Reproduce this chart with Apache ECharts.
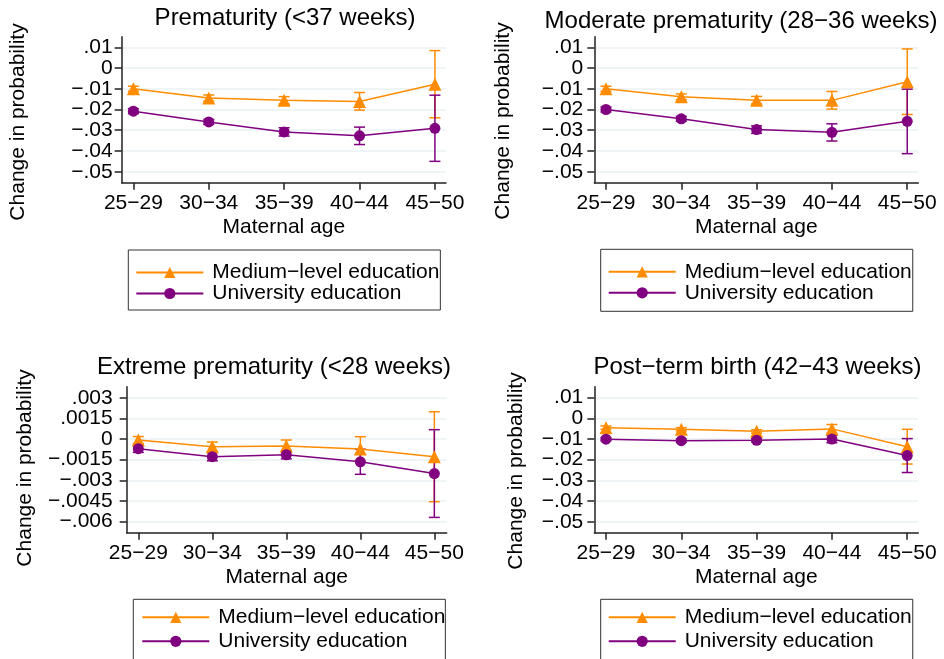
<!DOCTYPE html>
<html>
<head>
<meta charset="utf-8">
<script src="https://cdn.jsdelivr.net/npm/echarts@6/dist/echarts.min.js"></script>
<style>
html,body{margin:0;padding:0;background:#fff;}
#chart{width:944px;height:659px;}
</style>
</head>
<body>
<div id="chart"></div>
<script>
// ---------- data ----------
const categories = ['25\u221229', '30\u221234', '35\u221239', '40\u221244', '45\u221250'];
const seriesNames = ['Medium\u2212level education', 'University education'];
const panelTitles = ['Prematurity (<37 weeks)', 'Moderate prematurity (28\u221236 weeks)',
                     'Extreme prematurity (<28 weeks)', 'Post\u2212term birth (42\u221243 weeks)'];
const yAxisTitle = 'Change in probability';
const xAxisTitle = 'Maternal age';

// Panel 1: Prematurity (<37 weeks)
const p1Med   = [-0.0100, -0.0145, -0.0156, -0.0161, -0.0078];
const p1MedLo = [-0.0112, -0.0160, -0.0174, -0.0203, -0.0240];
const p1MedHi = [-0.0088, -0.0130, -0.0138, -0.0118,  0.0084];
const p1Uni   = [-0.0208, -0.0260, -0.0308, -0.0327, -0.0291];
const p1UniLo = [-0.0220, -0.0272, -0.0328, -0.0369, -0.0450];
const p1UniHi = [-0.0196, -0.0248, -0.0288, -0.0285, -0.0131];

// Panel 2: Moderate prematurity (28-36 weeks)
const p2Med   = [-0.0100, -0.0139, -0.0155, -0.0156, -0.0066];
const p2MedLo = [-0.0112, -0.0153, -0.0173, -0.0198, -0.0224];
const p2MedHi = [-0.0088, -0.0125, -0.0137, -0.0113,  0.0092];
const p2Uni   = [-0.0200, -0.0245, -0.0297, -0.0310, -0.0257];
const p2UniLo = [-0.0212, -0.0257, -0.0315, -0.0352, -0.0413];
const p2UniHi = [-0.0188, -0.0233, -0.0279, -0.0269, -0.0102];

// Panel 3: Extreme prematurity (<28 weeks)
const p3Med   = [-0.00007, -0.00056, -0.00051, -0.00073, -0.00128];
const p3MedLo = [-0.00032, -0.00090, -0.00095, -0.00163, -0.00455];
const p3MedHi = [ 0.00018, -0.00022, -0.00007,  0.00017,  0.00198];
const p3Uni   = [-0.00070, -0.00128, -0.00114, -0.00165, -0.00251];
const p3UniLo = [-0.00097, -0.00158, -0.00144, -0.00256, -0.00569];
const p3UniHi = [-0.00043, -0.00098, -0.00084, -0.00074,  0.00068];

// Panel 4: Post-term birth (42-43 weeks)
const p4Med   = [-0.0045, -0.0053, -0.0063, -0.0051, -0.0137];
const p4MedLo = [-0.0053, -0.0061, -0.0071, -0.0071, -0.0221];
const p4MedHi = [-0.0037, -0.0045, -0.0055, -0.0030, -0.0053];
const p4Uni   = [-0.0101, -0.0108, -0.0106, -0.0100, -0.0180];
const p4UniLo = [-0.0109, -0.0116, -0.0114, -0.0118, -0.0262];
const p4UniHi = [-0.0093, -0.0100, -0.0098, -0.0082, -0.0098];

// Tick values and labels (ascending)
const yTicksA = [-0.05, -0.04, -0.03, -0.02, -0.01, 0, 0.01];
const yTickLabelsA = ['\u2212.05', '\u2212.04', '\u2212.03', '\u2212.02', '\u2212.01', '0', '.01'];
const yTicksB = [-0.006, -0.0045, -0.003, -0.0015, 0, 0.0015, 0.003];
const yTickLabelsB = ['\u2212.006', '\u2212.0045', '\u2212.003', '\u2212.0015', '0', '.0015', '.003'];
const xTicks = [1, 2, 3, 4, 5];

// ---------- layout / style ----------
const FONT = '"Liberation Sans", Arial, Helvetica, sans-serif';
const ORANGE = '#ff8c00';
const PURPLE = '#800080';
const GRIDCOL = '#eaf2f3';

const panels = [
  {med:p1Med, medLo:p1MedLo, medHi:p1MedHi, uni:p1Uni, uniLo:p1UniLo, uniHi:p1UniHi,
   grid:{left:121.7, top:36.7, width:324.3, height:146}, x:[0.845, 5.147], y:[-0.0553, 0.0151],
   ticks:yTicksA, labels:yTickLabelsA, labelMargin:9,
   title:[285, 18], yName:[18, 122]},
  {med:p2Med, medLo:p2MedLo, medHi:p2MedHi, uni:p2Uni, uniLo:p2UniLo, uniHi:p2UniHi,
   grid:{left:594.3, top:36.7, width:324, height:146}, x:[0.845, 5.147], y:[-0.0553, 0.0151],
   ticks:yTicksA, labels:yTickLabelsA, labelMargin:11,
   title:[741, 21], yName:[503, 121]},
  {med:p3Med, medLo:p3MedLo, medHi:p3MedHi, uni:p3Uni, uniLo:p3UniLo, uniHi:p3UniHi,
   grid:{left:126.7, top:386.7, width:320, height:146}, x:[0.843, 5.167], y:[-0.0068, 0.0038],
   ticks:yTicksB, labels:yTickLabelsB, labelMargin:14,
   title:[274, 367], yName:[25, 468]},
  {med:p4Med, medLo:p4MedLo, medHi:p4MedHi, uni:p4Uni, uniLo:p4UniLo, uniHi:p4UniHi,
   grid:{left:594.3, top:386.7, width:324, height:146}, x:[0.845, 5.147], y:[-0.0553, 0.0153],
   ticks:yTicksA, labels:yTickLabelsA, labelMargin:11,
   title:[757.5, 367], yName:[516, 471]}
];

const legendBoxes = [
  {left:128.3, top:250, padding:[12, 1, 6, 7], lineHeight:20},
  {left:600.7, top:249.3, padding:[12, 1, 8, 7], lineHeight:20},
  {left:133.3, top:599.3, padding:[6, 0, 12, 8], lineHeight:24},
  {left:600.7, top:599.3, padding:[6, 1, 12, 7], lineHeight:24}
];

function errorBar(color) {
  return function (params, api) {
    const x = api.value(0), lo = api.value(1), hi = api.value(2);
    const a = api.coord([x, hi]);
    const b = api.coord([x, lo]);
    const w = 5.5;
    const st = {stroke: color, lineWidth: 1.5, fill: null};
    return {type: 'group', children: [
      {type: 'line', shape: {x1: a[0], y1: a[1], x2: b[0], y2: b[1]}, style: st},
      {type: 'line', shape: {x1: a[0] - w, y1: a[1], x2: a[0] + w, y2: a[1]}, style: st},
      {type: 'line', shape: {x1: b[0] - w, y1: b[1], x2: b[0] + w, y2: b[1]}, style: st}
    ]};
  };
}

function labelFormatter(ticks, labels) {
  return v => { const k = ticks.findIndex(t => Math.abs(t - v) < 1e-9); return k >= 0 ? labels[k] : ''; };
}

const grids = [], xAxes = [], yAxes = [], series = [], graphics = [], legends = [];

panels.forEach((p, i) => {
  grids.push(Object.assign({containLabel: false}, p.grid));
  xAxes.push({
    type: 'value', gridIndex: i, min: p.x[0], max: p.x[1],
    name: xAxisTitle, nameLocation: 'middle', nameGap: 34,
    nameTextStyle: {fontSize: 21, fontFamily: FONT, color: '#000'},
    axisLine: {show: true, onZero: false, lineStyle: {color: '#222', width: 1.5}},
    axisTick: {show: true, inside: false, length: 7, customValues: xTicks, lineStyle: {color: '#222', width: 1.5}},
    axisLabel: {show: true, customValues: xTicks, margin: 10, fontSize: 21, fontFamily: FONT, color: '#000',
      showMinLabel: true, showMaxLabel: true, hideOverlap: false,
      formatter: v => categories[Math.round(v) - 1]},
    splitLine: {show: false}
  });

  const ticks = p.ticks, labels = p.labels;
  // alternate tick labels are split between two coincident axes so none get dropped as "overlapping"
  const evenTicks = ticks.filter((t, k) => k % 2 === 0);
  const oddTicks = ticks.filter((t, k) => k % 2 === 1);
  const fmt = labelFormatter(ticks, labels);
  const labelBase = {show: true, margin: p.labelMargin, fontSize: 21, fontFamily: FONT, color: '#000',
    showMinLabel: true, showMaxLabel: true, hideOverlap: false, formatter: fmt};
  yAxes.push({
    type: 'value', gridIndex: i, min: p.y[0], max: p.y[1], position: 'left', offset: 0,
    axisLine: {show: true, onZero: false, lineStyle: {color: '#222', width: 1.5}},
    axisTick: {show: true, inside: false, length: 7, customValues: ticks, lineStyle: {color: '#222', width: 1.5}},
    axisLabel: Object.assign({customValues: evenTicks}, labelBase),
    splitLine: {show: true, lineStyle: {color: GRIDCOL, width: 1.5}}
  });
  yAxes.push({
    type: 'value', gridIndex: i, min: p.y[0], max: p.y[1], position: 'left', offset: 0,
    axisLine: {show: false, onZero: false},
    axisTick: {show: false, customValues: oddTicks},
    axisLabel: Object.assign({customValues: oddTicks}, labelBase),
    splitLine: {show: false}
  });
  const yi = 2 * i;

  const medCI = categories.map((c, k) => [k + 1, p.medLo[k], p.medHi[k]]);
  const uniCI = categories.map((c, k) => [k + 1, p.uniLo[k], p.uniHi[k]]);
  series.push({
    type: 'custom', name: 'ci-med-' + i, xAxisIndex: i, yAxisIndex: yi,
    renderItem: errorBar(ORANGE), data: medCI, encode: {x: 0, y: [1, 2]}, silent: true, z: 1
  });
  series.push({
    type: 'custom', name: 'ci-uni-' + i, xAxisIndex: i, yAxisIndex: yi,
    renderItem: errorBar(PURPLE), data: uniCI, encode: {x: 0, y: [1, 2]}, silent: true, z: 1
  });
  series.push({
    type: 'line', name: seriesNames[0], xAxisIndex: i, yAxisIndex: yi,
    data: categories.map((c, k) => [k + 1, p.med[k]]),
    symbol: 'triangle', symbolSize: 13, showSymbol: true,
    lineStyle: {color: ORANGE, width: 1.5}, itemStyle: {color: ORANGE}, z: 3
  });
  series.push({
    type: 'line', name: seriesNames[1], xAxisIndex: i, yAxisIndex: yi,
    data: categories.map((c, k) => [k + 1, p.uni[k]]),
    symbol: 'circle', symbolSize: 11, showSymbol: true,
    lineStyle: {color: PURPLE, width: 1.5}, itemStyle: {color: PURPLE}, z: 3
  });

  graphics.push({
    type: 'text', x: p.title[0], y: p.title[1],
    style: {text: panelTitles[i], font: '24px ' + FONT, fill: '#000',
      align: 'center', verticalAlign: 'middle', textAlign: 'center', textVerticalAlign: 'middle'}
  });
  graphics.push({
    type: 'text', x: p.yName[0], y: p.yName[1], rotation: Math.PI / 2,
    style: {text: yAxisTitle, font: '21px ' + FONT, fill: '#000',
      align: 'center', verticalAlign: 'middle', textAlign: 'center', textVerticalAlign: 'middle'}
  });

  const lb = legendBoxes[i];
  legends.push({
    data: seriesNames, orient: 'vertical', left: lb.left, top: lb.top, height: 120,
    padding: lb.padding, itemGap: 0, itemWidth: 67, itemHeight: 14,
    borderColor: '#333', borderWidth: 1, backgroundColor: '#fff',
    selectedMode: false,
    textStyle: {fontSize: 21, fontFamily: FONT, color: '#000', lineHeight: lb.lineHeight, padding: [0, 0, 0, 4]}
  });
});

const chart = echarts.init(document.getElementById('chart'), null, {renderer: 'canvas'});
chart.setOption({
  animation: false,
  backgroundColor: '#fff',
  grid: grids,
  xAxis: xAxes,
  yAxis: yAxes,
  legend: legends,
  series: series,
  graphic: graphics
});
</script>
</body>
</html>
